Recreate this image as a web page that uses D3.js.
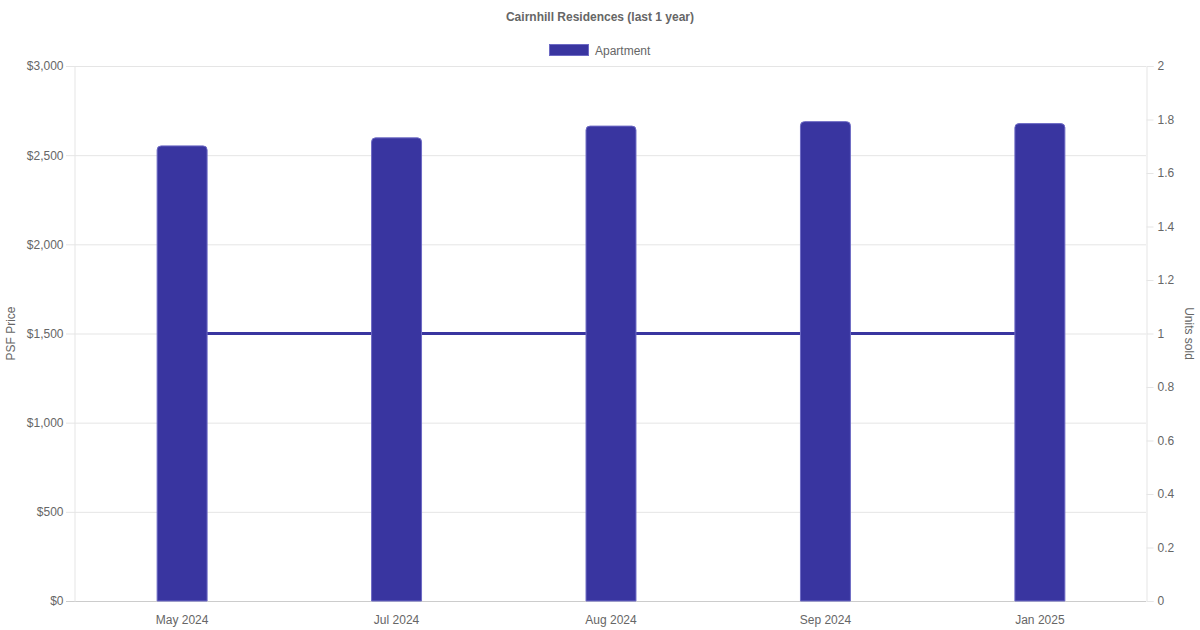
<!DOCTYPE html>
<html>
<head>
<meta charset="utf-8">
<script src="https://cdn.jsdelivr.net/npm/d3@7"></script>
<style>
  body { margin: 0; background: #fff; }
  svg { font-family: "Liberation Sans", Arial, sans-serif; }
</style>
</head>
<body>
<div id="chart"></div>
<script>
// Chart size and plot area
const width = 1200;
const height = 630;
const margin = { top: 66, right: 54, bottom: 29, left: 74 };

// Data
const months = ["May 2024", "Jul 2024", "Aug 2024", "Sep 2024", "Jan 2025"];
const psfPrice = [2552, 2597, 2663, 2688, 2677];
const unitsSold = [1, 1, 1, 1, 1];
const leftTicks = [0, 500, 1000, 1500, 2000, 2500, 3000];
const rightTicks = [0, 0.2, 0.4, 0.6, 0.8, 1, 1.2, 1.4, 1.6, 1.8, 2];

const barColor = "#3935a0";
const textColor = "#666";
const gridColor = "#e5e5e5";

const svg = d3.select("#chart")
    .append("svg")
    .attr("width", width)
    .attr("height", height);

const x = d3.scaleBand()
    .domain(months)
    .range([margin.left + 1, width - margin.right + 1])
    .paddingInner(0.767)
    .paddingOuter(0.383);

const xc = d => x(d) + x.bandwidth() / 2;

const yLeft = d3.scaleLinear()
    .domain([0, 3000])
    .range([height - margin.bottom, margin.top]);

const yRight = d3.scaleLinear()
    .domain([0, 2])
    .range([height - margin.bottom, margin.top]);

// Grid lines from the left axis
svg.append("g")
    .selectAll("line")
    .data(leftTicks)
    .enter().append("line")
    .attr("x1", margin.left - 8)
    .attr("x2", width - margin.right)
    .attr("y1", d => yLeft(d) + 0.5)
    .attr("y2", d => yLeft(d) + 0.5)
    .attr("stroke", (d) => d === 0 ? "#ccc" : gridColor)
    .attr("stroke-width", 1);

// Left axis
const leftAxis = svg.append("g")
    .attr("transform", `translate(${margin.left + 0.5},0)`)
    .call(d3.axisLeft(yLeft).tickValues(leftTicks).tickSize(0).tickPadding(11)
        .tickFormat(d => "$" + d3.format(",")(d)));
leftAxis.select(".domain").attr("stroke", gridColor);
leftAxis.selectAll("text").attr("fill", textColor).style("font-size", "12px");

// Right axis
const rightAxis = svg.append("g")
    .attr("transform", `translate(${width - margin.right + 0.5},0)`)
    .call(d3.axisRight(yRight).tickValues(rightTicks).tickSize(7).tickPadding(4)
        .tickFormat(d3.format("")));
rightAxis.select(".domain").attr("stroke", gridColor);
rightAxis.selectAll(".tick line").attr("stroke", gridColor);
rightAxis.selectAll("text").attr("fill", textColor).style("font-size", "12px");

// Bottom axis labels
const bottomAxis = svg.append("g")
    .attr("transform", `translate(0,${height - margin.bottom})`)
    .call(d3.axisBottom(x).tickSize(0).tickPadding(14));
bottomAxis.select(".domain").remove();
bottomAxis.selectAll("text").attr("fill", textColor).style("font-size", "12px");

// Units sold line (behind bars)
const line = d3.line()
    .x((d, i) => xc(months[i]))
    .y(d => yRight(d));

svg.append("path")
    .datum(unitsSold)
    .attr("d", line)
    .attr("fill", "none")
    .attr("stroke", barColor)
    .attr("stroke-width", 3);

// Bars with rounded tops
const r = 4;
function barPath(d, i) {
    const x0 = x(months[i]);
    const x1 = x0 + x.bandwidth();
    const y0 = yLeft(0);
    const y1 = yLeft(d);
    return `M${x0},${y0} L${x0},${y1 + r} Q${x0},${y1} ${x0 + r},${y1} ` +
        `L${x1 - r},${y1} Q${x1},${y1} ${x1},${y1 + r} L${x1},${y0} Z`;
}

svg.append("g")
    .selectAll("path")
    .data(psfPrice)
    .enter().append("path")
    .attr("d", barPath)
    .attr("fill", barColor)
    .attr("stroke", "#6d6ac4")
    .attr("stroke-width", 1);

// Axis titles
svg.append("text")
    .attr("transform", `translate(15,${(margin.top + height - margin.bottom) / 2}) rotate(-90)`)
    .attr("text-anchor", "middle")
    .attr("fill", textColor)
    .style("font-size", "12px")
    .text("PSF Price");

svg.append("text")
    .attr("transform", `translate(1185,${(margin.top + height - margin.bottom) / 2}) rotate(90)`)
    .attr("text-anchor", "middle")
    .attr("fill", textColor)
    .style("font-size", "12px")
    .text("Units sold");

// Title
svg.append("text")
    .attr("x", width / 2)
    .attr("y", 21)
    .attr("text-anchor", "middle")
    .attr("fill", textColor)
    .style("font-size", "12px")
    .style("font-weight", "bold")
    .text("Cairnhill Residences (last 1 year)");

// Legend
svg.append("rect")
    .attr("x", 549.5)
    .attr("y", 44.5)
    .attr("width", 39)
    .attr("height", 11)
    .attr("fill", barColor)
    .attr("stroke", "#6d6ac4");

svg.append("text")
    .attr("x", 595)
    .attr("y", 54.5)
    .attr("fill", textColor)
    .style("font-size", "12px")
    .text("Apartment");
</script>
</body>
</html>
